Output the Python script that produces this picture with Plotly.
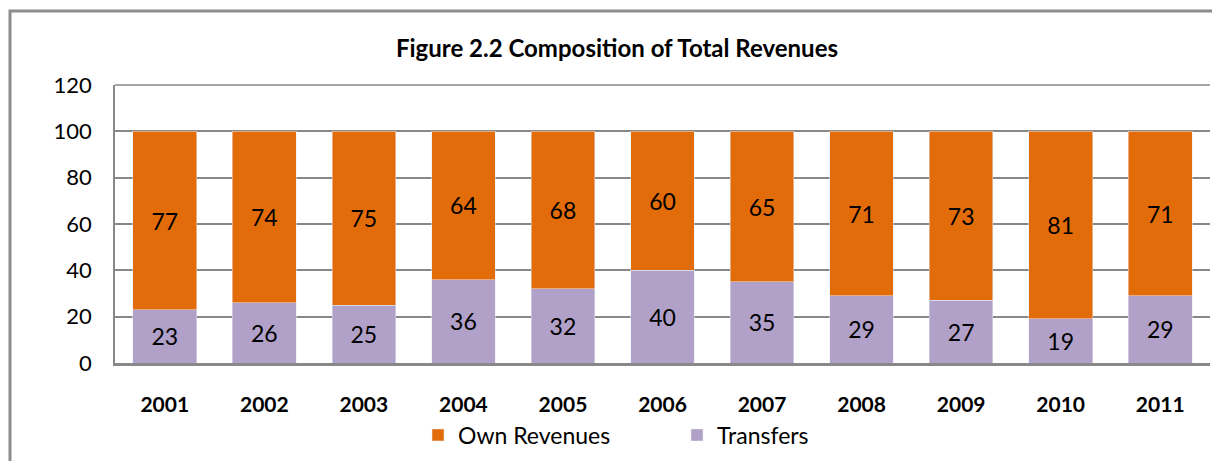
import plotly.graph_objects as go

years = ["2001", "2002", "2003", "2004", "2005", "2006", "2007", "2008", "2009", "2010", "2011"]
transfers = [23, 26, 25, 36, 32, 40, 35, 29, 27, 19, 29]
own_revenues = [77, 74, 75, 64, 68, 60, 65, 71, 73, 81, 71]

W, H = 1212, 461
L, R, T, B = 115, 2, 85, 98
pw, ph = W - L - R, H - T - B

font = "Lato, 'Open Sans', sans-serif"

fig = go.Figure()
fig.add_trace(go.Bar(
    x=years, y=transfers, name="Transfers", marker_color="#B1A0C7",
    text=[str(v) for v in transfers], textposition="inside", insidetextanchor="middle",
    textfont=dict(size=23, color="black", family=font), textangle=0,
))
fig.add_trace(go.Bar(
    x=years, y=own_revenues, name="Own Revenues", marker_color="#E36C0A",
    text=[str(v) for v in own_revenues], textposition="inside", insidetextanchor="middle",
    textfont=dict(size=23, color="black", family=font), textangle=0,
))

fig.update_layout(
    width=W, height=H, barmode="stack", bargap=0.36,
    margin=dict(l=L, r=R, t=T, b=B, autoexpand=False),
    paper_bgcolor="white", plot_bgcolor="white",
    font=dict(family=font, color="black"),
    title=dict(text="<b>Figure 2.2 Composition of Total Revenues</b>", x=617 / W, xanchor="center",
               y=1 - 49 / H, yanchor="middle", font=dict(size=24, family=font)),
    showlegend=True,
    legend=dict(orientation="h", traceorder="reversed", x=(418 - L) / pw, xanchor="left",
                y=(363 - 435) / ph, yanchor="middle", entrywidth=214, entrywidthmode="pixels",
                font=dict(size=23, family=font), itemwidth=30),
    uniformtext=dict(mode=False),
)
fig.update_yaxes(range=[0, 120], dtick=20, showgrid=True, gridcolor="#888888", gridwidth=1.5,
                 showline=True, linecolor="#888888", linewidth=1.5, ticks="",
                 tickfont=dict(size=22, family=font), zeroline=False, fixedrange=True,
                 ticklabelstandoff=17, automargin=False)
fig.update_xaxes(showline=True, linecolor="#888888", linewidth=2.5, mirror=False, ticks="",
                 tickfont=dict(size=21, family=font), tickprefix="<b>", ticksuffix="</b>",
                 ticklabelstandoff=21, automargin=False)

# outer chart border (cropped at right and bottom)
fig.add_shape(type="rect", xref="paper", yref="paper",
              x0=(10 - L) / pw, x1=(W + 20 - L) / pw,
              y0=-(H + 20 - T - ph) / ph, y1=1 + (T - 11) / ph,
              line=dict(color="#8C8C8C", width=3), layer="below")
# top border of plot area
fig.add_shape(type="line", xref="paper", yref="paper", x0=0, x1=1, y0=1, y1=1,
              line=dict(color="#888888", width=1.5))

fig.write_html("out.html", config={"displayModeBar": False},
               post_script="document.body.style.margin='0';document.body.style.overflow='hidden';")
